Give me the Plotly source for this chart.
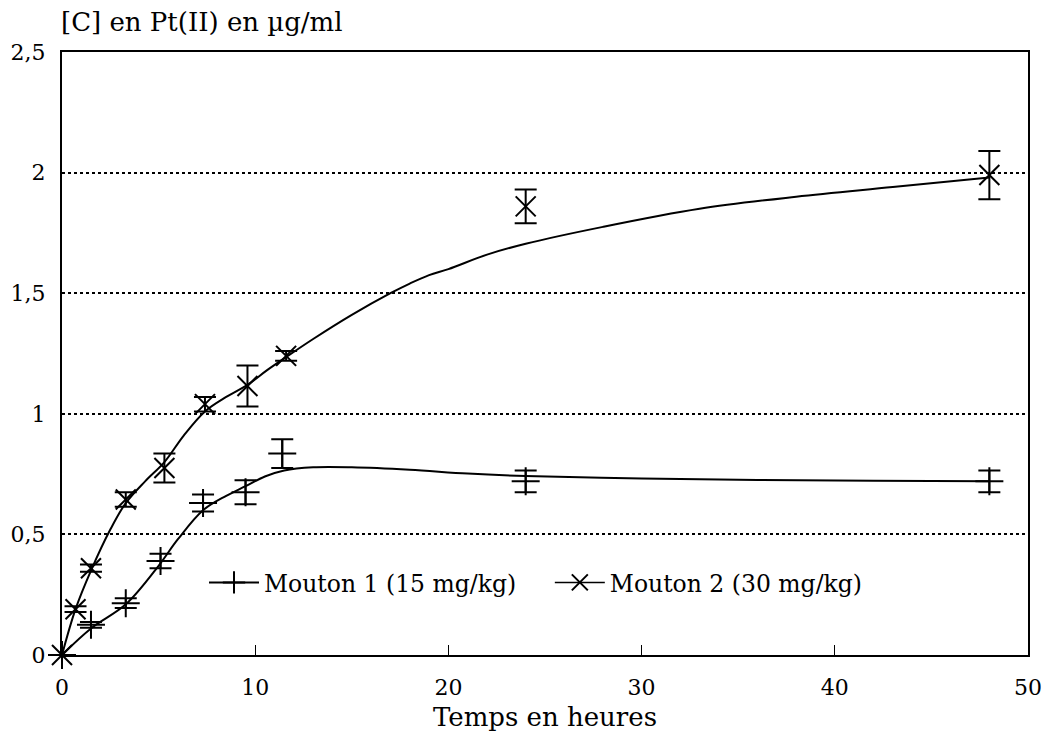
import plotly.graph_objects as go

# ---- data ----
m1_x = [0, 1.5, 3.3, 5.1, 7.3, 9.5, 11.4, 24, 48]
m1_y = [0, 0.125, 0.215, 0.39, 0.63, 0.675, 0.835, 0.72, 0.72]
m1_err = [0, 0.012, 0.02, 0.03, 0.035, 0.05, 0.06, 0.045, 0.045]

m2_x = [0, 0.7, 1.5, 3.3, 5.3, 7.4, 9.6, 11.6, 24, 48]
m2_y = [0, 0.19, 0.36, 0.645, 0.775, 1.04, 1.115, 1.24, 1.86, 1.99]
m2_err = [0, 0.012, 0.015, 0.03, 0.06, 0.03, 0.085, 0.02, 0.07, 0.1]

# fitted curves
c1_x = [0, 1.5, 3.3, 5, 6, 7.3, 8.5, 9.5, 10.5, 11.5, 13, 15, 18, 21, 24, 30, 36, 42, 48]
c1_y = [0, 0.11, 0.21, 0.37, 0.48, 0.60, 0.66, 0.70, 0.74, 0.765, 0.778, 0.778, 0.768, 0.752, 0.742, 0.732, 0.726, 0.722, 0.72]

c2_x = [0, 0.7, 1.5, 2.5, 3.3, 4.3, 5.3, 6.3, 7.4, 8.5, 9.6, 10.6, 11.6, 13, 15, 17, 18, 19, 20, 22, 24, 28, 33, 38, 43, 48]
c2_y = [0, 0.19, 0.35, 0.52, 0.63, 0.72, 0.80, 0.91, 1.01, 1.07, 1.12, 1.18, 1.235, 1.31, 1.41, 1.50, 1.54, 1.575, 1.60, 1.66, 1.705, 1.775, 1.85, 1.90, 1.94, 1.98]

names = ["Mouton 1 (15 mg/kg)", "Mouton 2 (30 mg/kg)"]
x_ticks = [0, 10, 20, 30, 40, 50]
y_ticks = [0, 0.5, 1, 1.5, 2, 2.5]
y_ticktext = ["0", "0,5", "1", "1,5", "2", "2,5"]

FONT = "DejaVu Serif"
BLACK = "black"

fig = go.Figure()

fig.add_trace(go.Scatter(x=c1_x, y=c1_y, mode="lines", line=dict(color=BLACK, width=2, shape="spline", smoothing=1.0),
                         showlegend=False, hoverinfo="skip"))
fig.add_trace(go.Scatter(x=c2_x, y=c2_y, mode="lines", line=dict(color=BLACK, width=2, shape="spline", smoothing=1.0),
                         showlegend=False, hoverinfo="skip"))

fig.add_trace(go.Scatter(x=m1_x, y=m1_y, mode="markers", cliponaxis=False,
                         marker=dict(symbol="cross-thin", size=20, line=dict(color=BLACK, width=2), color=BLACK),
                         error_y=dict(type="data", array=m1_err, visible=True, color=BLACK, thickness=2, width=11),
                         showlegend=False))
fig.add_trace(go.Scatter(x=m2_x, y=m2_y, mode="markers", cliponaxis=False,
                         marker=dict(symbol="x-thin", size=20, line=dict(color=BLACK, width=2), color=BLACK),
                         error_y=dict(type="data", array=m2_err, visible=True, color=BLACK, thickness=2, width=11),
                         showlegend=False))

# legend entries (line + marker), one legend box each
fig.add_trace(go.Scatter(x=[None], y=[None], mode="lines+markers", name=names[0], legend="legend",
                         line=dict(color=BLACK, width=2),
                         marker=dict(symbol="cross-thin", size=22, line=dict(color=BLACK, width=2))))
fig.add_trace(go.Scatter(x=[None], y=[None], mode="lines+markers", name=names[1], legend="legend2",
                         line=dict(color=BLACK, width=1.5),
                         marker=dict(symbol="x-thin", size=20, line=dict(color=BLACK, width=2))))

legend_style = dict(orientation="h", xanchor="left", yanchor="middle", y=0.12, itemwidth=50,
                    bgcolor="rgba(0,0,0,0)", font=dict(family=FONT, size=23.5, color=BLACK))

fig.update_layout(
    width=1043, height=729,
    margin=dict(l=54, r=23, t=44, b=82, autoexpand=False),
    paper_bgcolor="white", plot_bgcolor="white",
    separators=", ",
    font=dict(family=FONT, size=20, color=BLACK),
    showlegend=True,
    legend=dict(x=0.147, **legend_style),
    legend2=dict(x=0.505, **legend_style),
    xaxis=dict(range=[0, 50], tickvals=x_ticks, ticktext=[str(v) for v in x_ticks],
               showline=True, linecolor=BLACK, linewidth=2, mirror=True,
               ticks="inside", ticklen=10, tickcolor=BLACK, tickwidth=1,
               showgrid=False, zeroline=False, ticklabelstandoff=12, automargin=False,
               title=dict(text="Temps en heures", font=dict(family=FONT, size=26), standoff=8),
               tickfont=dict(family=FONT, size=22)),
    yaxis=dict(range=[0, 2.5], tickvals=y_ticks, ticktext=y_ticktext,
               showline=True, linecolor=BLACK, linewidth=2, mirror=True,
               ticks="", showgrid=True, gridcolor=BLACK, griddash="dot", gridwidth=1.5,
               zeroline=False, ticklabelstandoff=10, automargin=False,
               tickfont=dict(family=FONT, size=22)),
    annotations=[dict(text="[C] en Pt(II) en µg/ml", xref="paper", yref="paper", x=0, y=1.0,
                      xanchor="left", yanchor="middle", yshift=30, xshift=-3, showarrow=False,
                      font=dict(family=FONT, size=26, color=BLACK))],
)

fig.write_html("out.html")
